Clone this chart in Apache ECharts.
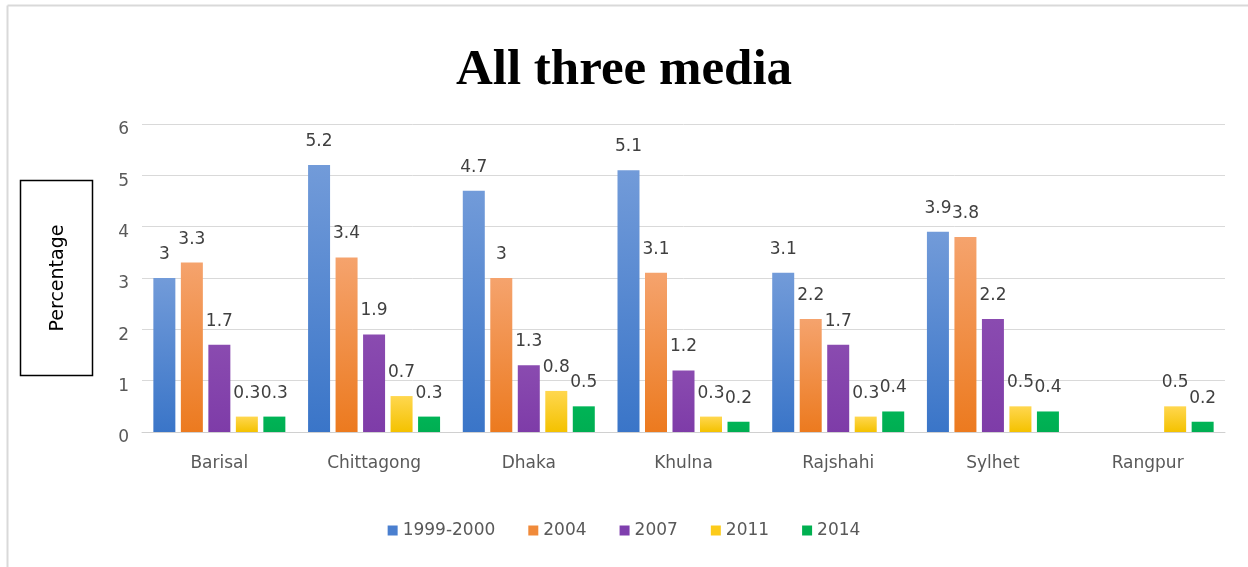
<!DOCTYPE html>
<html>
<head>
<meta charset="utf-8">
<script src="https://cdn.jsdelivr.net/npm/echarts@6/dist/echarts.min.js"></script>
<style>
  html, body { margin: 0; padding: 0; background: #fff; }
  #chart { width: 1248px; height: 567px; }
</style>
</head>
<body>
<div id="chart"></div>
<script>
// Regions and share (%) per survey round
const categories = ['Barisal', 'Chittagong', 'Dhaka', 'Khulna', 'Rajshahi', 'Sylhet', 'Rangpur'];
const seriesNames = ['1999-2000', '2004', '2007', '2011', '2014'];
const values1999 = [3, 5.2, 4.7, 5.1, 3.1, 3.9, null];
const values2004 = [3.3, 3.4, 3, 3.1, 2.2, 3.8, null];
const values2007 = [1.7, 1.9, 1.3, 1.2, 1.7, 2.2, null];
const values2011 = [0.3, 0.7, 0.8, 0.3, 0.3, 0.5, 0.5];
const values2014 = [0.3, 0.3, 0.5, 0.2, 0.4, 0.4, 0.2];
const yTicks = [0, 1, 2, 3, 4, 5, 6];

const seriesValues = [values1999, values2004, values2007, values2011, values2014];
const fills = [
  ['#729bd9', '#3a75c8'],
  ['#f5a36d', '#ec7a1f'],
  ['#8a4bb0', '#7e3ca8'],
  ['#ffd74f', '#f4c200'],
  ['#00b456', '#00ae52']
];
const legendColors = ['#4a7fcf', '#f08a3a', '#7f3fae', '#fccb1a', '#00b050'];

const textColor = '#595959';
const font = '"DejaVu Sans", "Open Sans", sans-serif';

const chart = echarts.init(document.getElementById('chart'));

const series = seriesValues.map((vals, i) => ({
  name: seriesNames[i],
  type: 'bar',
  data: vals,
  barWidth: 22,
  barGap: '25%',
  itemStyle: {
    color: new echarts.graphic.LinearGradient(0, 0, 0, 1, [
      { offset: 0, color: fills[i][0] },
      { offset: 1, color: fills[i][1] }
    ])
  },
  label: {
    show: true,
    position: 'top',
    distance: 15,
    color: '#404040',
    fontSize: 17,
    fontFamily: font
  }
}));

chart.setOption({
  backgroundColor: '#ffffff',
  animation: false,
  color: legendColors,
  title: {
    text: 'All three media',
    left: 'center',
    top: 40,
    textStyle: {
      fontFamily: '"Liberation Serif", "Times New Roman", serif',
      fontWeight: 'bold',
      fontSize: 51,
      color: '#000'
    }
  },
  legend: {
    data: seriesNames.map((n, i) => ({ name: n, itemStyle: { color: legendColors[i] } })),
    left: 'center',
    top: 517,
    icon: 'rect',
    itemWidth: 10,
    itemHeight: 10,
    itemGap: 33,
    textStyle: { color: textColor, fontSize: 17, fontFamily: font }
  },
  grid: { left: 142, right: 23, top: 124, bottom: 135 },
  xAxis: {
    type: 'category',
    data: categories,
    axisTick: { show: false },
    axisLine: { lineStyle: { color: '#d0d0d0', width: 1 } },
    axisLabel: { color: textColor, fontSize: 17, fontFamily: font, margin: 23 }
  },
  yAxis: {
    type: 'value',
    min: yTicks[0],
    max: yTicks[yTicks.length - 1],
    interval: 1,
    axisLine: { show: false },
    axisTick: { show: false },
    splitLine: { lineStyle: { color: '#d9d9d9', width: 1 } },
    axisLabel: {
      color: textColor, fontSize: 17, fontFamily: font, margin: 13,
      verticalAlign: 'top', lineHeight: 12
    }
  },
  graphic: [
    // outer frame (top and left edges)
    { type: 'line', shape: { x1: 7.5, y1: 5.5, x2: 1248, y2: 5.5 }, style: { stroke: '#d9d9d9', lineWidth: 2 } },
    { type: 'line', shape: { x1: 7.5, y1: 5.5, x2: 7.5, y2: 567 }, style: { stroke: '#d9d9d9', lineWidth: 2 } },
    // boxed axis title
    { type: 'rect', shape: { x: 20.5, y: 180.5, width: 72, height: 195 }, style: { fill: '#fff', stroke: '#000', lineWidth: 1.5 } },
    {
      type: 'text',
      x: 58, y: 278,
      rotation: Math.PI / 2,
      style: { text: 'Percentage', fill: '#000', fontSize: 19, fontFamily: font, align: 'center', verticalAlign: 'middle' }
    }
  ],
  series: series
});
</script>
</body>
</html>
